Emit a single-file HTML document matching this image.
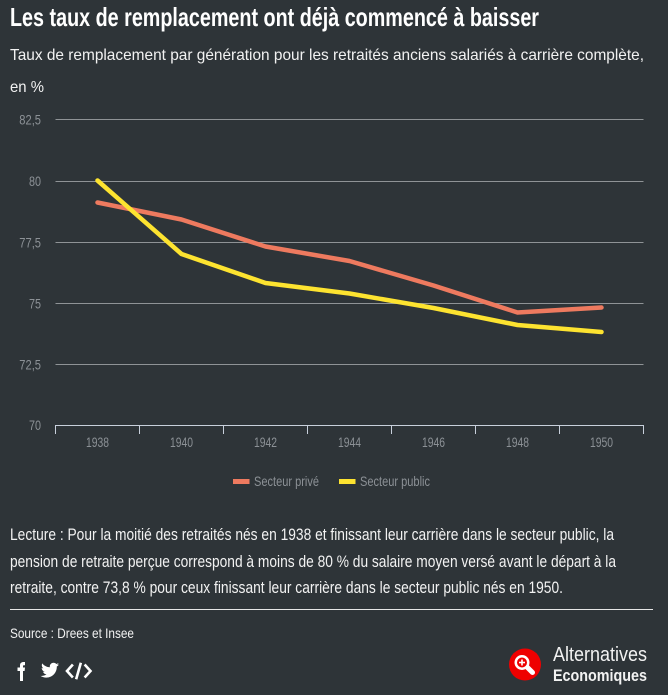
<!DOCTYPE html>
<html><head><meta charset="utf-8"><style>
html,body{margin:0;padding:0;background:#2e3438;}
svg{display:block;}
text{font-family:"Liberation Sans Narrow","Liberation Sans",sans-serif;}
</style></head><body>
<svg width="668" height="695" viewBox="0 0 668 695" xmlns="http://www.w3.org/2000/svg">
<rect width="668" height="695" fill="#2e3438"/>
<text x="10" y="26" font-size="26" font-weight="bold" fill="#ffffff" textLength="529" lengthAdjust="spacingAndGlyphs">Les taux de remplacement ont déjà commencé à baisser</text>
<text x="10" y="60" font-size="16" fill="#f2f2f2" textLength="634" lengthAdjust="spacingAndGlyphs">Taux de remplacement par génération pour les retraités anciens salariés à carrière complète,</text>
<text x="10" y="92" font-size="16" fill="#f2f2f2" textLength="34" lengthAdjust="spacingAndGlyphs">en %</text>

<g stroke="#8f9396" stroke-width="1">
<line x1="55.5" y1="119.5" x2="643.5" y2="119.5"/>
<line x1="55.5" y1="181.5" x2="643.5" y2="181.5"/>
<line x1="55.5" y1="242.5" x2="643.5" y2="242.5"/>
<line x1="55.5" y1="303.5" x2="643.5" y2="303.5"/>
<line x1="55.5" y1="364.5" x2="643.5" y2="364.5"/>
</g>
<g stroke="#c8d0dc" stroke-width="1">
<line x1="55.5" y1="425.5" x2="643.5" y2="425.5"/>
<line x1="55.5" y1="425" x2="55.5" y2="434"/>
<line x1="139.5" y1="425" x2="139.5" y2="434"/>
<line x1="223.5" y1="425" x2="223.5" y2="434"/>
<line x1="307.5" y1="425" x2="307.5" y2="434"/>
<line x1="391.5" y1="425" x2="391.5" y2="434"/>
<line x1="475.5" y1="425" x2="475.5" y2="434"/>
<line x1="559.5" y1="425" x2="559.5" y2="434"/>
<line x1="643.5" y1="425" x2="643.5" y2="434"/>
</g>
<g font-size="14" fill="#8c9196" text-anchor="end">
<text x="41" y="124.5" textLength="21.7" lengthAdjust="spacingAndGlyphs">82,5</text>
<text x="41" y="186" textLength="12" lengthAdjust="spacingAndGlyphs">80</text>
<text x="41" y="247.5" textLength="21.7" lengthAdjust="spacingAndGlyphs">77,5</text>
<text x="41" y="308.5" textLength="12" lengthAdjust="spacingAndGlyphs">75</text>
<text x="41" y="369.5" textLength="21.7" lengthAdjust="spacingAndGlyphs">72,5</text>
<text x="41" y="430" textLength="12" lengthAdjust="spacingAndGlyphs">70</text>
</g>
<g font-size="14" fill="#8c9196" text-anchor="middle">
<text x="97.5" y="447" textLength="23" lengthAdjust="spacingAndGlyphs">1938</text>
<text x="181.5" y="447" textLength="23" lengthAdjust="spacingAndGlyphs">1940</text>
<text x="265.5" y="447" textLength="23" lengthAdjust="spacingAndGlyphs">1942</text>
<text x="349.5" y="447" textLength="23" lengthAdjust="spacingAndGlyphs">1944</text>
<text x="433.5" y="447" textLength="23" lengthAdjust="spacingAndGlyphs">1946</text>
<text x="517.5" y="447" textLength="23" lengthAdjust="spacingAndGlyphs">1948</text>
<text x="601.5" y="447" textLength="23" lengthAdjust="spacingAndGlyphs">1950</text>
</g>

<polyline points="97.5,202.5 181.5,219.5 265.5,246.5 349.5,261 433.5,285.5 517.5,312.5 601.5,307.5" fill="none" stroke="#ee7a5f" stroke-width="4.5" stroke-linejoin="round" stroke-linecap="round"/>
<polyline points="97.5,180.5 181.5,254 265.5,283 349.5,293.5 433.5,308 517.5,325 601.5,332" fill="none" stroke="#fde330" stroke-width="4.5" stroke-linejoin="round" stroke-linecap="round"/>

<rect x="233" y="479" width="16.5" height="5" fill="#ee7a5f"/>
<text x="254" y="486" font-size="14" fill="#8c9196" textLength="65" lengthAdjust="spacingAndGlyphs">Secteur privé</text>
<rect x="339" y="479" width="16.5" height="5" fill="#fde330"/>
<text x="360" y="486" font-size="14" fill="#8c9196" textLength="70" lengthAdjust="spacingAndGlyphs">Secteur public</text>

<g font-size="17" fill="#f2f2f2">
<text x="10" y="540" textLength="604" lengthAdjust="spacingAndGlyphs">Lecture : Pour la moitié des retraités nés en 1938 et finissant leur carrière dans le secteur public, la</text>
<text x="10" y="567" textLength="606" lengthAdjust="spacingAndGlyphs">pension de retraite perçue correspond à moins de 80 % du salaire moyen versé avant le départ à la</text>
<text x="10" y="593" textLength="553" lengthAdjust="spacingAndGlyphs">retraite, contre 73,8 % pour ceux finissant leur carrière dans le secteur public nés en 1950.</text>
</g>
<line x1="10" y1="609.5" x2="653" y2="609.5" stroke="#e6e6e6" stroke-width="1"/>
<text x="10" y="638" font-size="14" fill="#f2f2f2" textLength="124" lengthAdjust="spacingAndGlyphs">Source : Drees et Insee</text>

<!-- facebook f -->
<path d="M20,681 V671 H17.5 V667.5 H20 V665.5 C20,663 21.5,662 23.5,662 H25 V665.3 H24 C23.3,665.3 23,665.6 23,666.3 V667.5 H25 L24.6,671 H23 V681 Z" fill="#ffffff"/>
<!-- twitter bird -->
<path d="M59,664.5 C58.3,664.8 57.6,665 56.9,665.1 C57.7,664.6 58.2,663.9 58.5,663.1 C57.8,663.5 57,663.8 56.2,664 C55.5,663.2 54.6,662.8 53.5,662.8 C51.5,662.8 49.8,664.5 49.8,666.5 C49.8,666.8 49.8,667.1 49.9,667.3 C46.8,667.2 44.1,665.7 42.3,663.4 C42,664 41.8,664.6 41.8,665.3 C41.8,666.6 42.4,667.7 43.4,668.4 C42.8,668.4 42.2,668.2 41.7,667.9 C41.7,669.7 43,671.2 44.7,671.6 C44.1,671.8 43.4,671.8 43,671.7 C43.5,673.2 44.9,674.2 46.5,674.3 C44.9,675.5 42.7,676.2 40.5,675.9 C42.2,677 44.1,677.6 46.2,677.6 C53.1,677.6 56.8,671.9 56.8,667 V666.5 C57.7,666 58.4,665.3 59,664.5 Z" fill="#ffffff"/>
<!-- </> -->
<g fill="none" stroke="#ffffff" stroke-width="2.6" stroke-linecap="square">
<polyline points="72,665.5 67,671 72,676.5"/>
<line x1="80.5" y1="664" x2="76.5" y2="678"/>
<polyline points="85.5,665.5 90.5,671 85.5,676.5"/>
</g>

<!-- logo -->
<circle cx="525" cy="664.5" r="16" fill="#ee0000"/>
<line x1="527" y1="667" x2="532.5" y2="672.5" stroke="#ffffff" stroke-width="5" stroke-linecap="round"/>
<circle cx="522" cy="662.5" r="7.5" fill="#ffffff"/>
<circle cx="522" cy="662.5" r="5" fill="#ee0000"/>
<line x1="519" y1="662.5" x2="525" y2="662.5" stroke="#ffffff" stroke-width="1.6"/>
<line x1="522" y1="659.5" x2="522" y2="665.5" stroke="#ffffff" stroke-width="1.6"/>
<text x="553" y="661" font-size="20" fill="#f2f2f2" textLength="94" lengthAdjust="spacingAndGlyphs">Alternatives</text>
<text x="553" y="681" font-size="17" font-weight="bold" fill="#f2f2f2" textLength="94" lengthAdjust="spacingAndGlyphs">Economiques</text>
</svg>
</body></html>
